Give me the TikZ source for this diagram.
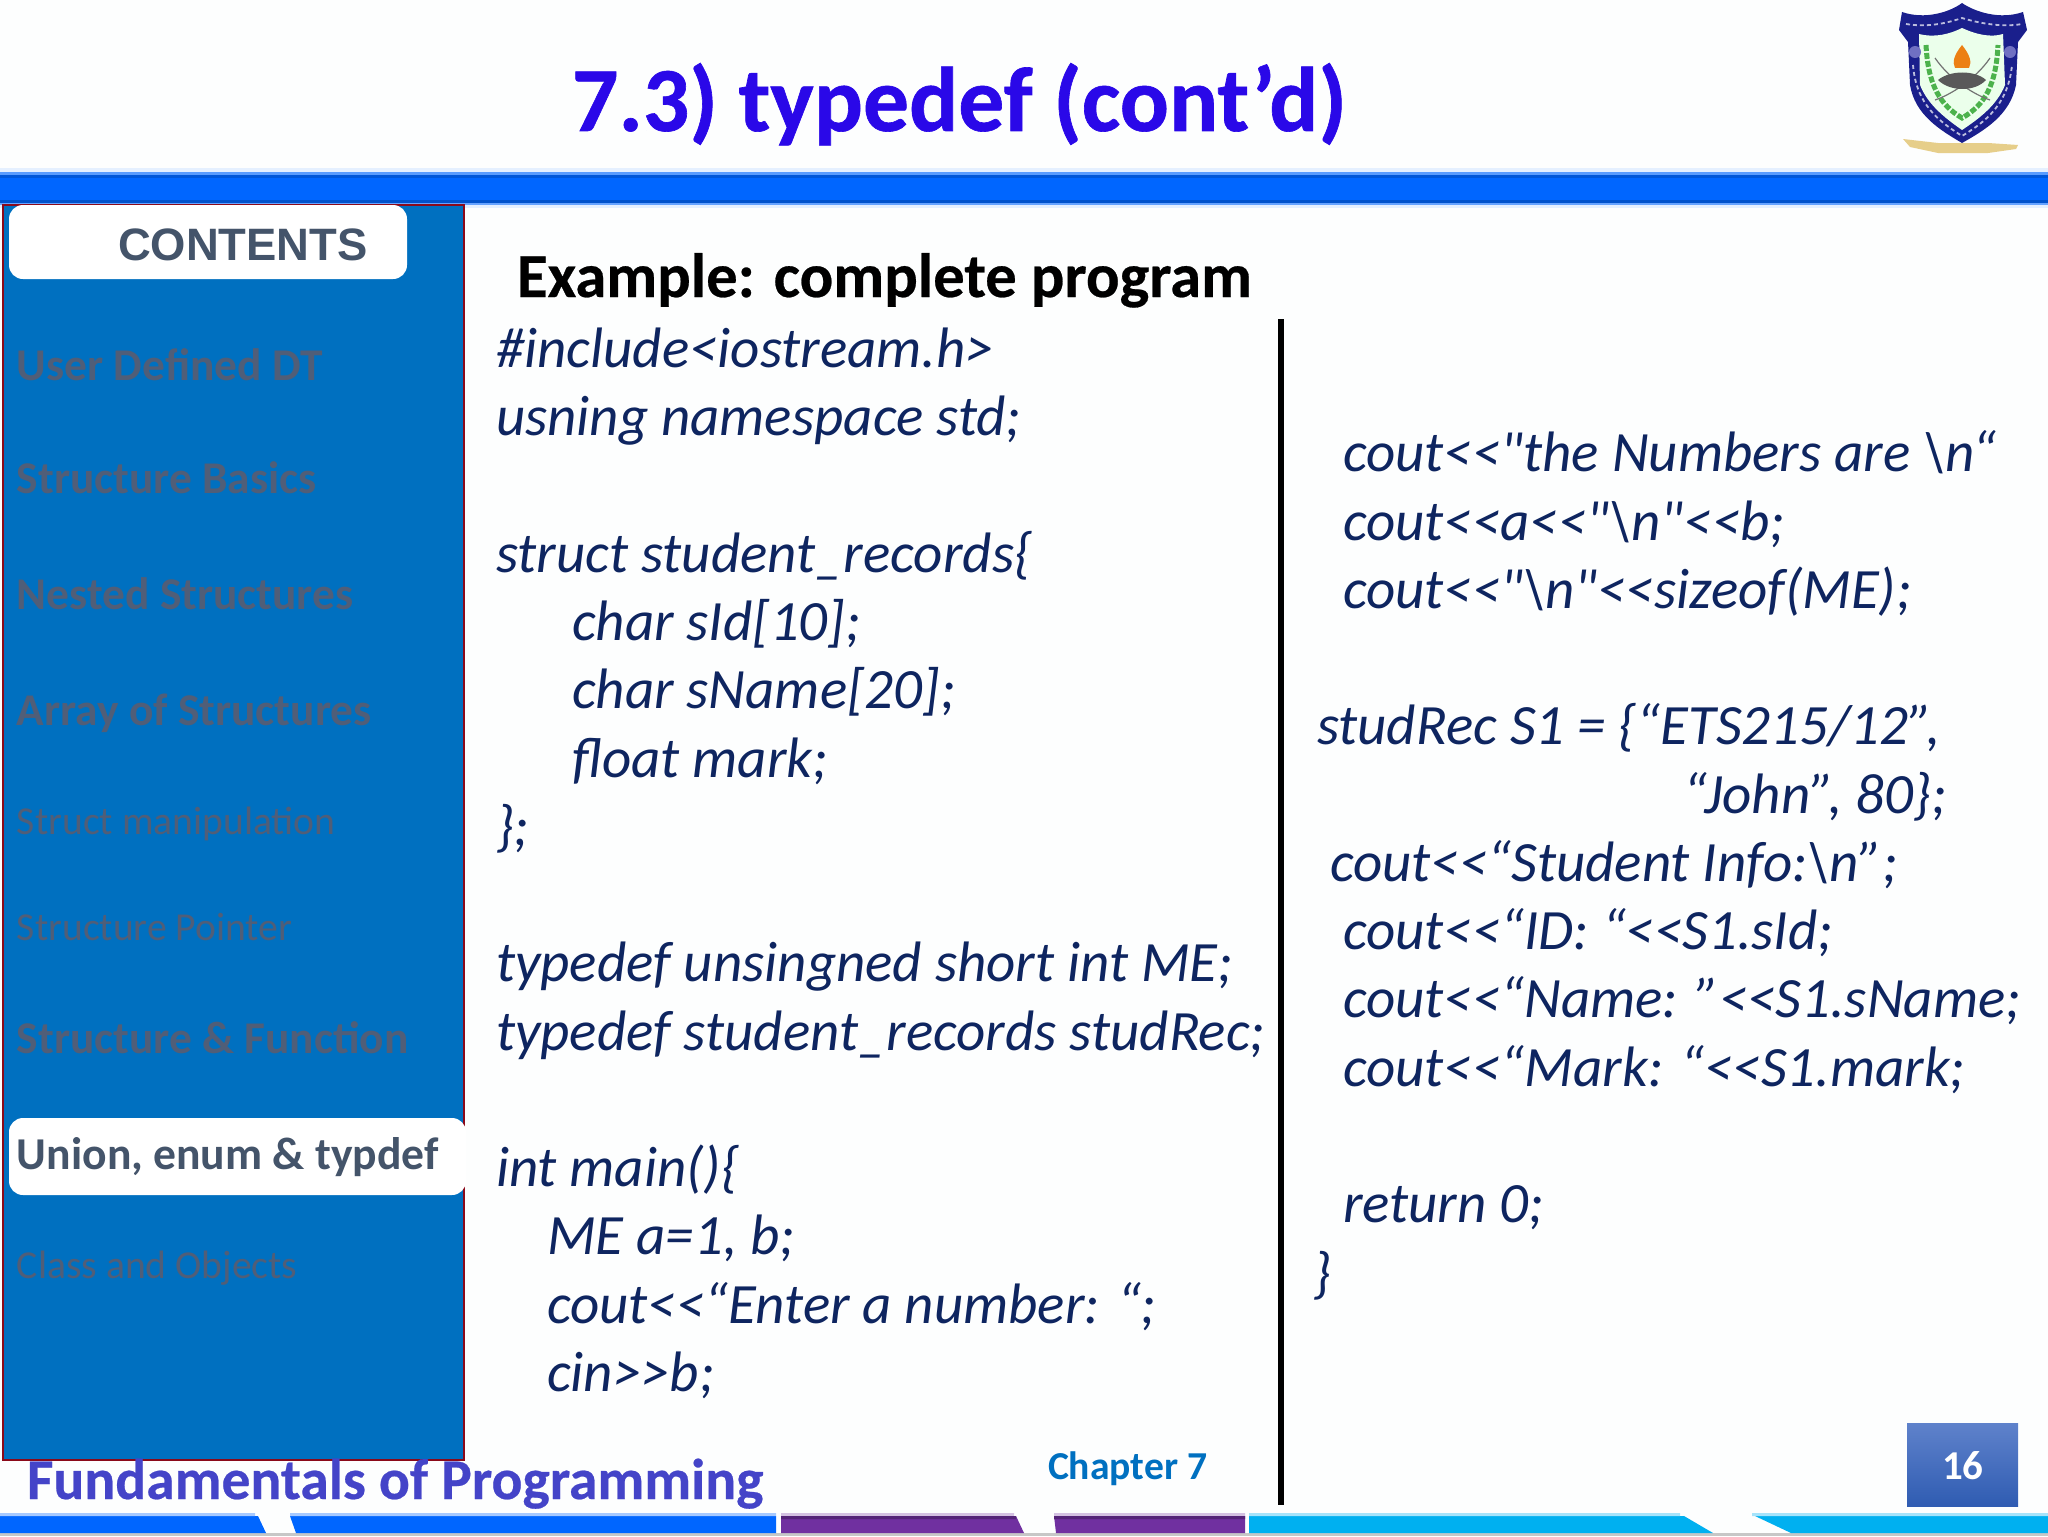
\documentclass[tikz,border=0pt]{standalone}
\usepackage{fontspec}
\newfontfamily\calf{Carlito}
\newfontface\calftitle[FakeBold=0.7]{Carlito Bold}
\newfontface\calfheavy[FakeBold=0.4]{Carlito Bold}
\newfontfamily\arl{Liberation Sans}
\definecolor{pagebg}{HTML}{FDFEFE}
\definecolor{barblue}{HTML}{0066FF}
\definecolor{sidebar}{HTML}{0070C0}
\definecolor{sideedge}{HTML}{8B0A1A}
\definecolor{slate}{HTML}{44546A}
\definecolor{dimtxt}{HTML}{505E78}
\definecolor{codeink}{HTML}{0E2560}
\definecolor{titleink}{HTML}{2A08E8}
\definecolor{fundink}{HTML}{4444C8}
\definecolor{purplebar}{HTML}{7030A0}
\definecolor{cyanbar}{HTML}{00B0F0}
\definecolor{navy}{HTML}{1A1F8C}
\definecolor{scroll}{HTML}{E6CE8A}
\tikzset{
  every node/.style={inner sep=0pt,outer sep=0pt,anchor=base west},
  code/.style={text=codeink,font=\calf\itshape\fontsize{28.5}{28.5}\selectfont},
  itemb/.style={text=dimtxt,font=\calf\bfseries\fontsize{22.7}{22.7}\selectfont},
  itemr/.style={text=dimtxt,font=\calf\fontsize{19.8}{19.8}\selectfont},
  pill/.style={fill=white,rounded corners=7pt},
}
\begin{document}
\begin{tikzpicture}[x=0.5pt,y=-0.5pt]
\useasboundingbox (0,0) rectangle (2048,1536);
\fill[pagebg] (0,0) rectangle (2048,1536);
% top bar
\fill[barblue!10!white] (0,168) rectangle (2048,208);
\fill[barblue!65!white] (0,172) rectangle (2048,175);
\fill[barblue!85!black] (0,175) rectangle (2048,178);
\fill[barblue] (0,178) rectangle (2048,200);
\fill[barblue!80!black] (0,200) rectangle (2048,203);
\fill[barblue!60!white] (0,203) rectangle (2048,205);
% logo
\fill[scroll] (1903,139) -- (1938,143) -- (1988,143) -- (2018,145) -- (2016,149) -- (1988,153) -- (1938,153) -- (1910,147) -- cycle;
\fill[navy] (1962,3) .. controls (1975,12) and (2000,20) .. (2023,12) -- (2027,30) -- (2018,42) -- (2016,85)
  .. controls (2010,115) and (1985,130) .. (1962,143)
  .. controls (1940,130) and (1915,115) .. (1910,85) -- (1908,42) -- (1899,30) -- (1902,12)
  .. controls (1925,20) and (1950,12) .. (1962,3) -- cycle;
\fill[white!92!green] (1962,28) .. controls (1975,34) and (1990,38) .. (2003,34) -- (2005,85)
  .. controls (1997,105) and (1980,118) .. (1962,130)
  .. controls (1945,118) and (1928,105) .. (1920,85) -- (1919,34)
  .. controls (1935,38) and (1950,34) .. (1962,28) -- cycle;
\draw[white!70!navy,line width=0.9pt,dash pattern=on 2pt off 1.5pt] (1906,24) .. controls (1930,28) and (1950,22) .. (1962,18) .. controls (1975,22) and (2000,28) .. (2022,24);
\draw[white!70!navy,line width=0.9pt,dash pattern=on 2pt off 1.5pt] (1913,65) .. controls (1916,105) and (1940,122) .. (1962,136) .. controls (1985,122) and (2008,105) .. (2012,65);
\draw[green!40!gray,line width=2.5pt,dash pattern=on 3pt off 1pt] (1926,45) .. controls (1928,85) and (1940,105) .. (1962,118)
  .. controls (1985,105) and (1996,85) .. (1998,45);
\draw[black!55,line width=0.6pt] (1935,58) .. controls (1950,80) and (1975,95) .. (1990,100);
\draw[black!55,line width=0.6pt] (1990,58) .. controls (1975,80) and (1950,95) .. (1935,100);
\fill[orange!70!brown] (1962,45) .. controls (1970,55) and (1972,62) .. (1969,68) -- (1955,68) .. controls (1952,62) and (1954,55) .. (1962,45) -- cycle;
\fill[black!65] (1938,80) .. controls (1950,70) and (1975,70) .. (1986,80) .. controls (1975,92) and (1950,92) .. (1938,80) -- cycle;
\fill[blue!40!gray!80!white] (1915,52) circle (6);
\fill[blue!40!gray!80!white] (2010,52) circle (6);
% title
\node[text=titleink,font=\calftitle\fontsize{45.8}{45.8}\selectfont] (title) at (572,131) {7.3) typedef (cont’d)};
% sidebar
\filldraw[fill=sidebar,draw=sideedge,line width=1.4pt] (3,205) rectangle (464,1460);
\fill[pill] (9,205) rectangle (407,279);
\fill[pill] (9,1118) rectangle (466,1195);
\node[text=slate,font=\arl\bfseries\fontsize{22.7}{22.7}\selectfont] (contents) at (118,260) {CONTENTS};
\node[itemb] (i1) at (17,380.5) {User Defined DT};
\node[itemb] (i2) at (17,493.5) {Structure Basics};
\node[itemb] (i3) at (17,609.5) {Nested Structures};
\node[itemb] (i4) at (17,725.5) {Array of Structures};
\node[itemr] (i5) at (17,834) {Struct manipulation};
\node[itemr] (i6) at (17,940) {Structure Pointer};
\node[itemb] (i7) at (17,1053.5) {Structure \& Function};
\node[text=slate,font=\calf\bfseries\fontsize{22.8}{22.8}\selectfont] (i8) at (17,1169) {Union, enum \& typdef};
\node[itemr] (i9) at (17,1278) {Class and Objects};
% heading
\node[text=black,font=\calfheavy\fontsize{31.3}{31.3}\selectfont] (ex) at (517,297) {Example: complete program};
% left code
\node[code] (l1) at (496,367) {\#include<iostream.h>};
\node[code] (l2) at (496,435.5) {usning namespace std;};
\node[code] (l3) at (496,572.5) {struct student\_records\{};
\node[code] (l4) at (572,640.5) {char sId[10];};
\node[code] (l5) at (572,708.5) {char sName[20];};
\node[code] (l6) at (572,777) {float mark;};
\node[code] (l7) at (496,845) {\};};
\node[code] (l8) at (496,981.5) {typedef unsingned short int ME;};
\node[code] (l9) at (496,1050) {typedef student\_records studRec;};
\node[code] (l10) at (496,1186.5) {int main()\{};
\node[code] (l11) at (547,1254.5) {ME a=1, b;};
\node[code] (l12) at (547,1323) {cout<<“Enter a number: “;};
\node[code] (l13) at (547,1391) {cin>>b;};
% divider
\coordinate (dtop) at (1281,319);
\coordinate (dbot) at (1281,1505);
\draw[black,line width=2.6pt] (dtop) -- (dbot);
% right code
\node[code] (r1) at (1343,471.5) {cout<<"the Numbers are \textbackslash n“};
\node[code] (r2) at (1343,540) {cout<<a<<"\textbackslash n"<<b;};
\node[code] (r3) at (1343,608.5) {cout<<"\textbackslash n"<<sizeof(ME);};
\node[code] (r4) at (1317,744.5) {studRec S1 = \{“ETS215/12”,};
\node[code] (r5) at (1683,813) {“John”, 80\};};
\node[code] (r6) at (1330,881.5) {cout<<“Student Info:\textbackslash n”;};
\node[code] (r7) at (1343,949.5) {cout<<“ID: “<<S1.sId;};
\node[code] (r8) at (1343,1017.5) {cout<<“Name: ”<<S1.sName;};
\node[code] (r9) at (1343,1086) {cout<<“Mark: “<<S1.mark;};
\node[code] (r10) at (1343,1222) {return 0;};
\node[code] (r11) at (1313,1292) {\}};
% footer
\node[text=fundink,font=\calfheavy\fontsize{28.8}{28.8}\selectfont] (fund) at (27,1499) {Fundamentals of Programming};
\node[text=sidebar,font=\calf\bfseries\fontsize{19.8}{19.8}\selectfont] (chap) at (1048,1479) {Chapter 7};
\definecolor{boxtop}{HTML}{5F82CB}
\definecolor{boxbot}{HTML}{2F5CB2}
\fill[top color=boxtop,bottom color=boxbot] (1907,1423) rectangle (2018,1506);
\node[text=white,font=\calf\bfseries\fontsize{20.5}{20.5}\selectfont] (num) at (1942,1479) {16};
% bottom bars
\fill[black!22] (0,1533) rectangle (2048,1536);
\fill[barblue] (0,1516) -- (258,1516) -- (266,1533) -- (0,1533) -- cycle;
\fill[barblue] (290,1516) -- (776,1516) -- (776,1533) -- (296,1533) -- cycle;
\fill[purplebar] (781,1516) -- (1016,1516) -- (1024,1533) -- (781,1533) -- cycle;
\fill[purplebar] (1054,1516) -- (1245,1516) -- (1245,1533) -- (1056,1533) -- cycle;
\fill[cyanbar] (1249,1516) -- (1684,1516) -- (1713,1533) -- (1249,1533) -- cycle;
\fill[cyanbar] (1755,1516) -- (2048,1516) -- (2048,1533) -- (1791,1533) -- cycle;
\fill[barblue!35!white] (0,1513) rectangle (255,1516) (290,1513) rectangle (776,1516);
\fill[purplebar!30!white] (781,1513) rectangle (1014,1516) (1054,1513) rectangle (1245,1516);
\fill[cyanbar!35!white] (1249,1513) rectangle (1680,1516) (1752,1513) rectangle (2048,1516);
\fill[purplebar!75!black] (781,1516) rectangle (1016,1519) (1054,1516) rectangle (1245,1519);
\end{tikzpicture}
\end{document}
